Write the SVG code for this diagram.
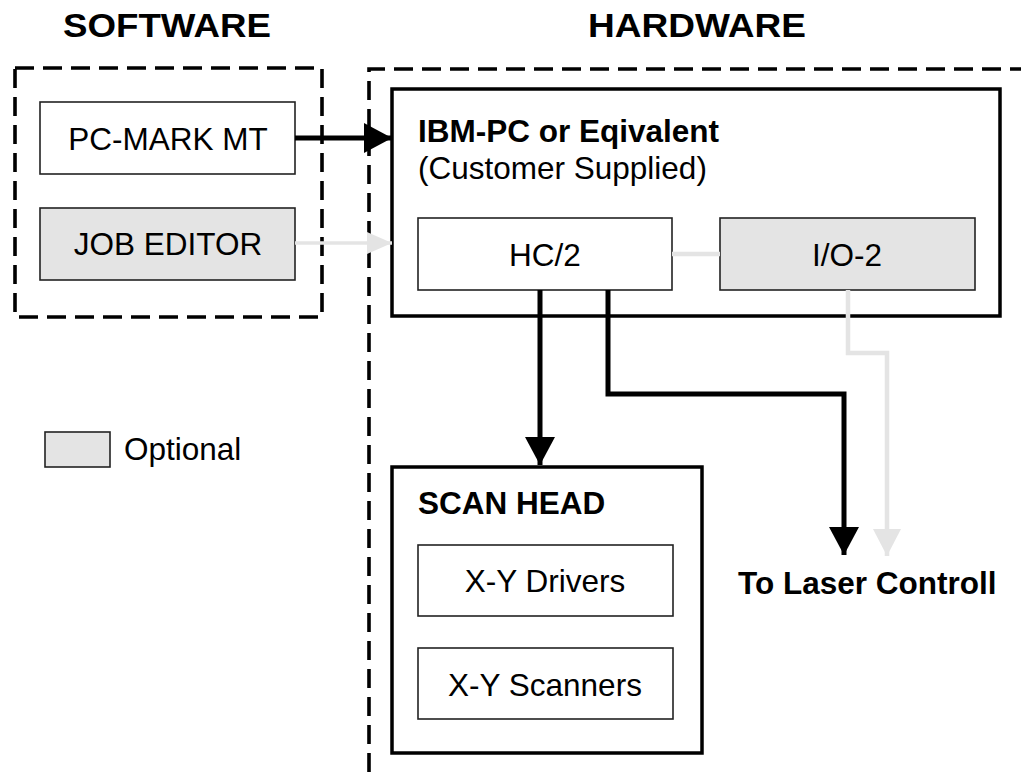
<svg xmlns="http://www.w3.org/2000/svg" width="1021" height="772" viewBox="0 0 1021 772">
<style>
text{font-family:"Liberation Sans",Arial,sans-serif;font-size:31.5px;fill:#000}
.b{font-weight:bold;font-size:31.5px}
.h{font-size:34px;font-weight:bold}
.c{text-anchor:middle}
.dash{fill:none;stroke:#000;stroke-width:3.6;stroke-dasharray:19 9}
.box{fill:#fff;stroke:#222;stroke-width:1.6}
.opt{fill:#e4e4e4;stroke:#222;stroke-width:1.6}
.big{fill:#fff;stroke:#000;stroke-width:3.5}
.k{fill:none;stroke:#000;stroke-width:5}
.g{fill:none;stroke:#e4e4e4;stroke-width:4.5}
.gt{fill:none;stroke:#e4e4e4;stroke-width:3.5}
</style>
<defs>
<marker id="ak" markerUnits="userSpaceOnUse" markerWidth="30" markerHeight="30" refX="28" refY="15" orient="auto" viewBox="0 0 30 30"><path d="M0,0 L28,15 L0,30 Z" fill="#000"/></marker>
<marker id="ag" markerUnits="userSpaceOnUse" markerWidth="30" markerHeight="30" refX="28" refY="15" orient="auto" viewBox="0 0 30 30"><path d="M1,1 L28,15 L1,29 Z" fill="#e4e4e4"/></marker>
<marker id="as" markerUnits="userSpaceOnUse" markerWidth="26" markerHeight="24" refX="25" refY="12" orient="auto" viewBox="0 0 26 24"><path d="M0,1 L25,12 L0,23 Z" fill="#e4e4e4"/></marker>
</defs>
<rect width="1021" height="772" fill="#fff"/>
<text class="h" x="63" y="37" textLength="208" lengthAdjust="spacingAndGlyphs">SOFTWARE</text>
<text class="h" x="588" y="37" textLength="218" lengthAdjust="spacingAndGlyphs">HARDWARE</text>
<rect class="dash" x="15" y="68" width="307" height="249"/>
<path class="dash" d="M369,772 V69 H1030"/>
<g id="pcmark"><rect class="box" x="40" y="102" width="255" height="72"/><text class="c" x="168" y="150">PC-MARK MT</text></g>
<g id="jobeditor"><rect class="opt" x="40" y="208" width="255" height="72"/><text class="c" x="168" y="255">JOB EDITOR</text></g>
<g id="ibmpc"><rect class="big" x="392" y="89" width="608" height="227"/><text class="b" x="418" y="142">IBM-PC or Eqivalent</text><text x="418" y="179">(Customer Supplied)</text></g>
<g id="hc2"><rect class="box" x="418" y="218" width="254" height="72"/><text class="c" x="545" y="266">HC/2</text></g>
<g id="io2"><rect class="opt" x="720" y="218" width="255" height="72"/><text class="c" x="847" y="266">I/O-2</text></g>
<g id="scanhead"><rect class="big" x="392" y="467" width="310" height="286"/><text class="b" x="418" y="514">SCAN HEAD</text></g>
<g id="drivers"><rect class="box" x="418" y="545" width="255" height="71"/><text class="c" x="545" y="592">X-Y Drivers</text></g>
<g id="scanners"><rect class="box" x="418" y="648" width="255" height="71"/><text class="c" x="545" y="696">X-Y Scanners</text></g>
<g id="legend"><rect class="opt" x="45" y="432" width="65" height="35"/><text x="124" y="460">Optional</text></g>
<g id="laser"><text class="b" x="738" y="594">To Laser Controll</text></g>
<g id="connectors">
<path class="k" d="M295,138 H392" marker-end="url(#ak)"/>
<path class="gt" d="M295,243 H392" marker-end="url(#as)"/>
<path class="g" d="M672,254 H720"/>
<path class="k" d="M540,290 V465" marker-end="url(#ak)"/>
<path class="k" d="M608,290 V394 H844 V555" marker-end="url(#ak)"/>
<path class="g" d="M848,290 V353 H887 V556" marker-end="url(#ag)"/>
</g>
</svg>
